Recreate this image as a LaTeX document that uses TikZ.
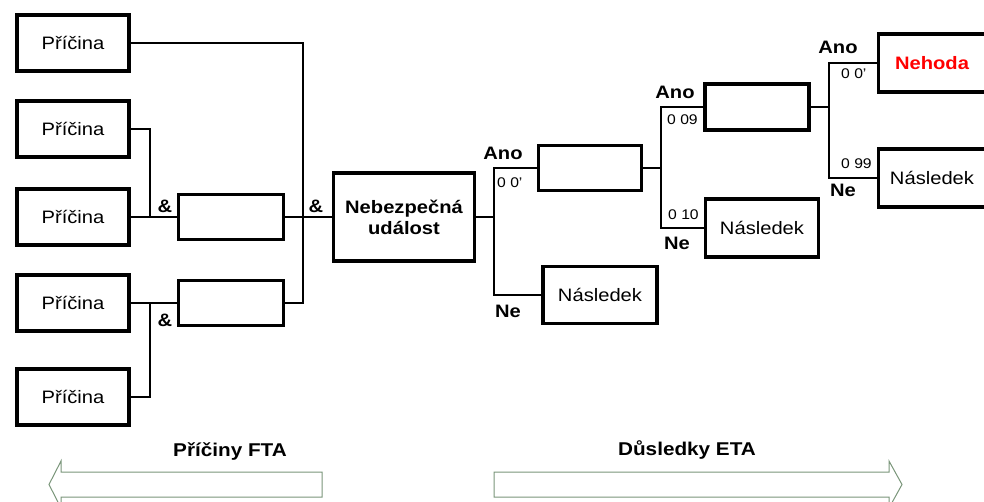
\documentclass[tikz,border=0pt]{standalone}
\usepackage{fontspec}
\setmainfont{Liberation Sans}[FakeStretch=1.12]
\begin{document}
\begin{tikzpicture}[x=1pt,y=-1pt,
  box/.style={draw=black,line width=3.6pt,inner sep=0pt,fill=white,
    font=\fontsize{18}{21}\selectfont,align=center},
  conn/.style={draw=black,line width=1.3pt},
  lbl/.style={inner sep=0pt,font=\fontsize{18}{21}\selectfont\bfseries},
  num/.style={inner sep=0pt,anchor=west,font=\fontsize{14}{16}\selectfont},
  bigarrow/.style={draw={rgb,255:red,122;green,150;blue,122},line width=1pt,fill=white}]
\useasboundingbox (0,0) rectangle (984,501);
% cause boxes
\node[box,minimum width=112pt,minimum height=56pt] (c1) at (73,43) {Příčina};
\node[box,minimum width=112pt,minimum height=56pt] (c2) at (73,129) {Příčina};
\node[box,minimum width=112pt,minimum height=56pt] (c3) at (73,217) {Příčina};
\node[box,minimum width=112pt,minimum height=56pt] (c4) at (73,303) {Příčina};
\node[box,minimum width=112pt,minimum height=56pt] (c5) at (73,397) {Příčina};
% gate boxes
\node[box,minimum width=105pt,minimum height=45pt] (gA) at (231,217) {};
\node[box,minimum width=105pt,minimum height=45pt] (gB) at (231,303) {};
% top event
\node[box,minimum width=141pt,minimum height=88pt,font=\fontsize{18}{21}\selectfont\bfseries] (neb) at (404,217) {Nebezpečná\\událost};
% event tree
\node[box,minimum width=103pt,minimum height=45pt] (ano1) at (590,168) {};
\node[box,minimum width=114pt,minimum height=57pt] (nas1) at (600,295) {Následek};
\node[box,minimum width=104pt,minimum height=46pt] (ano2) at (757,107) {};
\node[box,minimum width=113pt,minimum height=58pt] (nas2) at (762,228) {Následek};
\node[box,minimum width=107pt,minimum height=58pt,text=red,font=\fontsize{18}{21}\selectfont\bfseries] (neh) at (932,63) {Nehoda};
\node[box,minimum width=107pt,minimum height=58pt] (nas3) at (932,178) {Následek};
% junctions
\coordinate (jL) at (303,303);
\coordinate (jA) at (150,217);
\coordinate (jB) at (150,303);
\coordinate (e1) at (494,217);
\coordinate (e2) at (661,168);
\coordinate (e3) at (829,107);
% connectors
\draw[conn] (c1.east) -| (jL) -- (gB.east);
\draw[conn] (gA.east) -- (neb.west);
\draw[conn] (c2.east) -| (jA);
\draw[conn] (c3.east) -- (gA.west);
\draw[conn] (c5.east) -| (jB);
\draw[conn] (c4.east) -- (gB.west);
\draw[conn] (neb.east) -- (e1);
\draw[conn] (ano1.west) -| (e1) |- (nas1.west);
\draw[conn] (ano1.east) -- (e2);
\draw[conn] (ano2.west) -| (e2) |- (nas2.west);
\draw[conn] (ano2.east) -- (e3);
\draw[conn] (neh.west) -| (e3) |- (nas3.west);
% gate labels
\node[lbl] (and1) at (165,206) {\&};
\node[lbl] (and2) at (316,206) {\&};
\node[lbl] (and3) at (165,320) {\&};
% branch labels
\node[lbl] (a1) at (503,153) {Ano};
\node[lbl] (n1) at (508,311) {Ne};
\node[num] (p1) at (497,183) {0 0’};
\node[lbl] (a2) at (675,92) {Ano};
\node[lbl] (n2) at (677,243) {Ne};
\node[num] (p2) at (667,120) {0 09};
\node[num] (p3) at (668,215) {0 10};
\node[lbl] (a3) at (838,47) {Ano};
\node[lbl] (n3) at (843,190) {Ne};
\node[num] (p4) at (841,74) {0 0’};
\node[num] (p5) at (841,164) {0 99};
% section titles
\node[lbl,font=\fontsize{18.5}{21}\selectfont\bfseries] (fta) at (230,452) {Příčiny FTA};
\node[lbl,font=\fontsize{18.5}{21}\selectfont\bfseries] (eta) at (687,450) {Důsledky ETA};
% big arrows
\draw[bigarrow] (322,472) -- (61,472) -- (61,461) -- (49,484.5) -- (61,508) -- (61,497) -- (322,497) -- cycle;
\draw[bigarrow] (494,472) -- (889,472) -- (889,461) -- (902,484.5) -- (889,508) -- (889,497) -- (494,497) -- cycle;
\end{tikzpicture}
\end{document}
